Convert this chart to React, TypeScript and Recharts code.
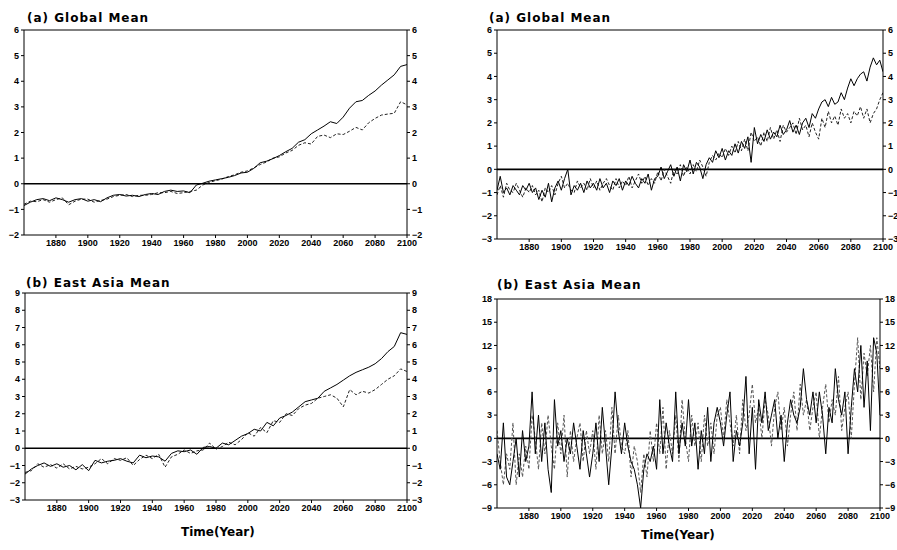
import { LineChart, Line, XAxis, YAxis, ReferenceLine } from 'recharts';

// years on the x axis (sampling of the annual curves)
const years4 = Array.from({ length: 61 }, (_, i) => 1860 + i * 4);
const years2 = Array.from({ length: 121 }, (_, i) => 1860 + i * 2);
const xTicks = [1880, 1900, 1920, 1940, 1960, 1980, 2000, 2020, 2040, 2060, 2080, 2100];

// top left: (a) Global Mean
const globalLeftA = [
  -0.85, -0.72, -0.62, -0.58, -0.66, -0.55, -0.62, -0.72, -0.62, -0.58,
  -0.68, -0.62, -0.7, -0.55, -0.45, -0.42, -0.48, -0.45, -0.5, -0.42,
  -0.38, -0.42, -0.3, -0.25, -0.3, -0.28, -0.35, -0.05, 0.02, 0.1,
  0.15, 0.2, 0.25, 0.32, 0.42, 0.45, 0.6, 0.82, 0.88, 0.98,
  1.1, 1.25, 1.38, 1.62, 1.72, 1.95, 2.1, 2.25, 2.42, 2.35,
  2.6, 2.95, 3.2, 3.25, 3.45, 3.62, 3.85, 4.05, 4.25, 4.58, 4.65,
];
const globalLeftB = [
  -0.8, -0.68, -0.7, -0.62, -0.72, -0.62, -0.55, -0.82, -0.68, -0.6,
  -0.6, -0.72, -0.65, -0.6, -0.5, -0.45, -0.42, -0.5, -0.45, -0.45,
  -0.42, -0.35, -0.35, -0.3, -0.38, -0.35, -0.3, -0.25, -0.05, 0.05,
  0.12, 0.18, 0.28, 0.35, 0.45, 0.5, 0.62, 0.75, 0.85, 1.0,
  1.05, 1.2, 1.3, 1.5, 1.6, 1.55, 1.85, 1.9, 1.8, 1.95,
  1.92, 2.05, 2.2, 2.1, 2.38, 2.55, 2.68, 2.72, 2.75, 3.2, 3.08,
];

// bottom left: (b) East Asia Mean
const eastAsiaLeftA = [
  -1.5, -1.2, -1.0, -0.85, -1.05, -0.9, -1.1, -1.0, -1.25, -0.95,
  -1.3, -0.7, -0.85, -0.75, -0.7, -0.6, -0.75, -0.85, -0.4, -0.55,
  -0.45, -0.5, -0.75, -0.3, -0.15, -0.2, -0.1, -0.35, 0.05, 0.1,
  0.0, 0.3, 0.2, 0.45, 0.7, 0.85, 1.1, 1.0, 1.5, 1.3,
  1.75, 1.9, 2.1, 2.4, 2.7, 2.8, 2.9, 3.3, 3.5, 3.7,
  3.95, 4.2, 4.4, 4.55, 4.7, 4.9, 5.2, 5.6, 5.9, 6.7, 6.6,
];
const eastAsiaLeftB = [
  -1.4, -1.3, -0.9, -1.1, -0.95, -1.15, -0.9, -1.2, -1.05, -1.2,
  -1.1, -0.9, -0.6, -0.9, -0.6, -0.7, -0.55, -1.0, -0.65, -0.4,
  -0.6, -0.35, -1.1, -0.5, -0.35, -0.1, -0.3, -0.15, -0.1, 0.3,
  -0.05, 0.1, 0.35, 0.2, 0.5, 0.9, 0.7, 1.2, 0.9, 1.6,
  1.5, 2.0, 1.9, 2.3, 2.5, 2.6, 2.9, 3.0, 3.1, 2.9,
  2.4, 3.4, 3.1, 3.3, 3.2, 3.4, 3.7, 4.0, 4.2, 4.6, 4.45,
];

// top right: (a) Global Mean
const globalRightA = [
  -0.9, -0.3, -1.0, -0.8, -1.1, -0.7, -0.9, -1.1, -0.7, -0.9,
  -0.6, -1.0, -0.8, -1.3, -0.9, -1.2, -0.6, -1.4, -0.8, -0.5,
  -0.9, -0.4, 0.0, -1.1, -0.7, -0.9, -0.6, -1.0, -0.5, -0.8,
  -0.6, -0.9, -0.4, -0.8, -0.6, -1.0, -0.5, -0.7, -0.4, -0.9,
  -0.5, -0.7, -0.3, -0.6, -0.8, -0.4, -0.6, -0.2, -0.9, -0.4,
  -0.3, 0.1, -0.4, -0.1, 0.2, -0.3, 0.1, -0.5, 0.2, -0.1,
  0.4, -0.2, 0.3, 0.1, -0.4, 0.2, 0.5, 0.3, 0.8, 0.5,
  0.9, 0.4, 0.8, 0.6, 1.1, 0.7, 1.2, 0.9, 1.4, 0.3,
  1.8, 1.1, 1.5, 1.2, 1.7, 1.3, 1.6, 1.4, 1.9, 1.5,
  1.7, 2.1, 1.6, 1.9, 1.5, 2.0, 2.2, 1.8, 2.4, 2.2,
  2.6, 2.9, 3.0, 2.7, 3.1, 2.8, 2.9, 3.3, 3.0, 3.5,
  3.9, 3.6, 3.9, 4.1, 4.2, 3.8, 4.4, 4.8, 4.5, 4.7, 4.2,
];
const globalRightB = [
  -1.1, -0.7, -1.2, -0.6, -0.9, -1.0, -0.6, -0.9, -1.2, -0.8,
  -1.0, -0.7, -1.1, -0.9, -1.4, -0.8, -1.0, -0.7, -1.1, -0.6,
  -0.3, -0.8, -0.6, -0.9, -1.0, -0.5, -0.8, -0.6, -0.9, -0.4,
  -0.8, -0.5, -0.9, -0.6, -0.4, -0.7, -0.9, -0.4, -0.8, -0.5,
  -0.7, -0.3, -0.8, -0.5, -0.2, -0.6, -0.3, -0.7, -0.4, -0.6,
  -0.1, -0.5, 0.0, -0.3, -0.6, 0.0, -0.2, 0.2, -0.3, 0.1,
  -0.2, 0.2, -0.1, 0.4, 0.1, -0.3, 0.3, 0.6, 0.4, 0.7,
  0.5, 0.9, 0.6, 1.0, 0.7, 1.2, 0.8, 1.3, 0.8, 1.6,
  1.2, 1.4, 1.0, 1.6, 1.2, 1.8, 1.3, 1.7, 1.2, 1.9,
  1.6, 1.8, 2.0, 1.5, 2.2, 1.7, 1.9, 1.4, 2.0, 1.6,
  1.3, 2.2, 1.8, 2.5, 2.0, 2.3, 1.9, 2.6, 2.2, 2.4,
  2.0, 2.5, 2.3, 2.7, 2.2, 2.6, 2.0, 2.4, 2.6, 3.0, 3.3,
];

// bottom right: (b) East Asia Mean
const eastAsiaRightA = [
  -2, -4, 2, -5, -6, -3, 0, -5, 1, -3,
  -1, 6, -2, 3, -3, 2, -4, -7, 5, -1,
  1, -3, 0, -2, 2, -1, -4, 1, -2, -5,
  -2, 2, -3, 4, -1, -6, -1, 6, 1, -2,
  2, -1, -3, -4, -6, -9, -4, -2, -3, -1,
  -4, 5, -2, 2, -1, -3, 6, -2, 2, -1,
  5, -1, 2, -4, 1, -2, 4, -3, 2, 4,
  2, -1, 3, 6, -3, 1, -1, 2, 8, -2,
  4, -4, 5, 2, 6, 1, 3, 5, 0, 3,
  -3, 2, 5, 3, 2, 4, 9, 5, 3, 6,
  2, 6, 3, -2, 4, 2, 9, 5, 3, 6,
  -2, 4, 9, 6, 12, 4, 10, 1, 13, 11, 3,
];
const eastAsiaRightB = [
  1, -3, -6, -2, -4, 2, -6, -2, -5, -1,
  -4, 3, 0, -4, 2, -2, 3, -1, -4, 2,
  -2, 3, -5, 1, -3, 0, 2, -3, 1, -2,
  1, -4, 3, -2, 1, -3, 4, -2, 3, -1,
  -2, 1, -5, -1, -3, -7, -2, -5, 1, -3,
  2, -2, 4, -4, 1, -2, 3, -3, 5, 0,
  -3, 3, -1, 2, -3, 3, -1, 2, -2, 3,
  4, 0, 5, 2, -1, 3, -2, 5, 1, 3,
  7, 2, 4, 0, 5, 3, -1, 4, 6, 1,
  4, -1, 3, 6, 1, 7, 3, 5, 1, 4,
  6, 0, 4, 7, 2, 5, 3, 8, 1, 4,
  6, 0, 7, 13, 5, 11, 8, 12, 6, 13, 9,
];

const ticksA = [-2, -1, 0, 1, 2, 3, 4, 5, 6];
const ticksB = [-3, -2, -1, 0, 1, 2, 3, 4, 5, 6, 7, 8, 9];
const ticksC = [-3, -2, -1, 0, 1, 2, 3, 4, 5, 6];
const ticksD = [-9, -6, -3, 0, 3, 6, 9, 12, 15, 18];

const build = (yrs: number[], a: number[], b: number[]) =>
  yrs.map((year, i) => ({ year, a: a[i], b: b[i] }));

const tickStyle = { fontSize: 9, fontWeight: 700, fill: '#000', fontFamily: 'Liberation Sans' };
const fmt = (v: number) => String(v).replace('-', '\u2212');

type PanelProps = {
  x: number;
  y: number;
  w: number;
  h: number;
  data: { year: number; a: number; b: number }[];
  ticks: number[];
  grayB?: boolean;
};

const Panel = ({ x, y, w, h, data, ticks, grayB }: PanelProps) => {
  const lo = ticks[0];
  const hi = ticks[ticks.length - 1];
  return (
    <div style={{ position: 'absolute', left: x - 24, top: y - 5 }}>
      <LineChart width={w + 44} height={h + 25} data={data} margin={{ top: 5, right: 0, left: 0, bottom: 0 }}>
        <XAxis
          dataKey="year"
          type="number"
          domain={[1860, 2100]}
          ticks={xTicks}
          height={20}
          tick={tickStyle}
          tickSize={3}
          stroke="#000"
          allowDataOverflow
        />
        <YAxis yAxisId="l" domain={[lo, hi]} ticks={ticks} width={24} tick={tickStyle} tickSize={3} stroke="#000" tickFormatter={fmt} interval={0} />
        <YAxis yAxisId="r" orientation="right" domain={[lo, hi]} ticks={ticks} width={20} tick={tickStyle} tickSize={3} stroke="#000" tickFormatter={fmt} interval={0} />
        <ReferenceLine yAxisId="l" y={hi} stroke="#000" strokeWidth={1.2} />
        <ReferenceLine yAxisId="l" y={0} stroke="#000" strokeWidth={1.6} />
        <Line yAxisId="r" dataKey="b" stroke={grayB ? '#555' : '#222'} strokeWidth={1} strokeDasharray="3 2" dot={false} isAnimationActive={false} />
        <Line yAxisId="l" dataKey="a" stroke="#000" strokeWidth={1} dot={false} isAnimationActive={false} />
      </LineChart>
    </div>
  );
};

const titleStyle = {
  position: 'absolute' as const,
  fontFamily: 'DejaVu Sans',
  fontWeight: 700,
  fontSize: 12,
  letterSpacing: 1,
  lineHeight: '14px',
  whiteSpace: 'nowrap' as const,
  color: '#000',
};

export default function App() {
  return (
    <div style={{ position: 'absolute', left: 0, top: 0, width: 897, height: 550, overflow: 'hidden', background: '#fff' }}>
      <Panel x={24} y={30} w={383} h={205} data={build(years4, globalLeftA, globalLeftB)} ticks={ticksA} />
      <Panel x={497} y={30} w={386} h={209} data={build(years2, globalRightA, globalRightB)} ticks={ticksC} />
      <Panel x={25} y={293} w={382} h={207} data={build(years4, eastAsiaLeftA, eastAsiaLeftB)} ticks={ticksB} />
      <Panel x={497} y={299} w={383} h={209} data={build(years2, eastAsiaRightA, eastAsiaRightB)} ticks={ticksD} grayB />
      <div style={{ ...titleStyle, left: 27, top: 11 }}>(a) Global Mean</div>
      <div style={{ ...titleStyle, left: 489, top: 11 }}>(a) Global Mean</div>
      <div style={{ ...titleStyle, left: 26, top: 276 }}>(b) East Asia Mean</div>
      <div style={{ ...titleStyle, left: 497, top: 278 }}>(b) East Asia Mean</div>
      <div style={{ ...titleStyle, letterSpacing: 0, left: 181, top: 525 }}>Time(Year)</div>
      <div style={{ ...titleStyle, letterSpacing: 0, left: 641, top: 528 }}>Time(Year)</div>
    </div>
  );
}
